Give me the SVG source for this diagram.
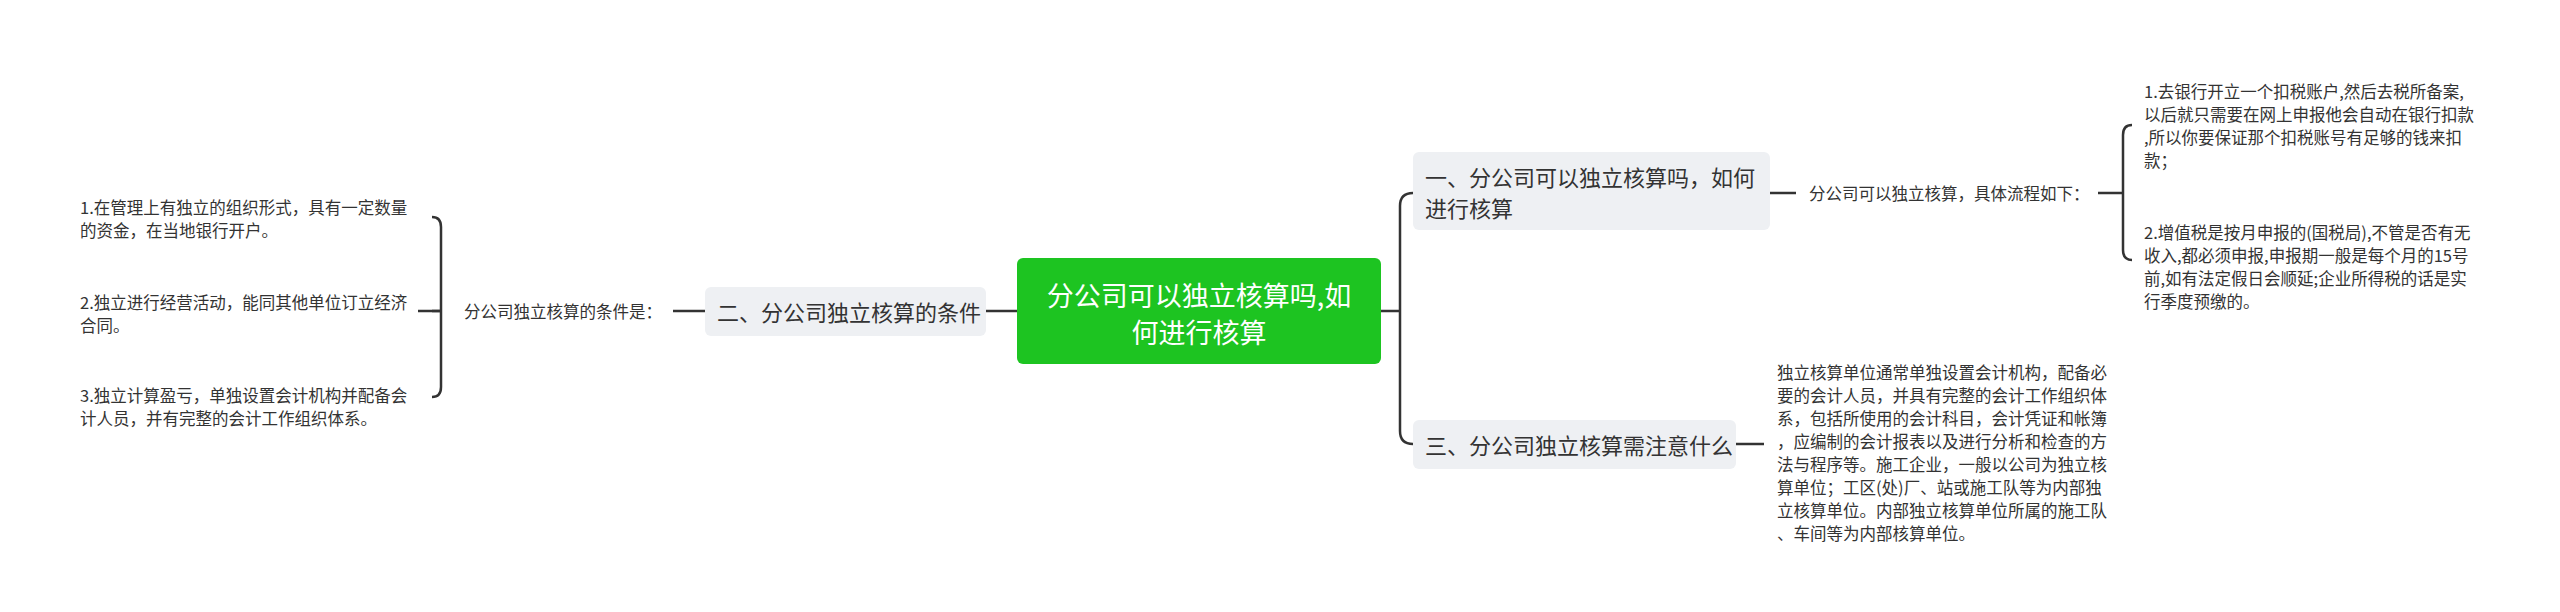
<svg xmlns="http://www.w3.org/2000/svg" width="2560" height="612" viewBox="0 0 2560 612">
<style>
text{font-family:"Noto Sans CJK SC","Noto Sans",sans-serif;fill:#333;dominant-baseline:central}
.leaf{font-size:16.5px}
.sub{font-size:22px}
.ln{fill:none;stroke:#333;stroke-width:2.5}
.box{fill:#eef0f3}
</style>
<rect width="2560" height="612" fill="#fff"/>
<g id="connectors">
<path class="ln" d="M986 311H1017"/>
<path class="ln" d="M673 311H705"/>
<path class="ln" d="M418 311H442 M432 217Q441 217 441 227V387Q441 397 432 397 M441 311V311"/>
<path class="ln" d="M432 311H441"/>
<path class="ln" d="M1381 311H1400 M1413 193Q1400 193 1400 206V431Q1400 444 1413 444"/>
<path class="ln" d="M1770 193H1796"/>
<path class="ln" d="M2098 193H2123 M2132 125Q2123 125 2123 135V250Q2123 260 2132 260"/>
<path class="ln" d="M1736 444H1764"/>
</g>
<g id="center">
<rect x="1017" y="258" width="364" height="106" rx="6" fill="#1dc421"/>
<text x="1199" y="294" font-size="27" fill="#fff" style="fill:#fff" text-anchor="middle">分公司可以独立核算吗,如</text>
<text x="1199" y="331" font-size="27" style="fill:#fff" text-anchor="middle">何进行核算</text>
</g>
<g id="n2">
<rect class="box" x="705" y="287" width="281" height="49" rx="6"/>
<text class="sub" x="717" y="311">二、分公司独立核算的条件</text>
</g>
<g id="n2label"><text class="leaf" x="464" y="311">分公司独立核算的条件是：</text></g>
<g id="n2a"><text class="leaf" x="80" y="207">1.在管理上有独立的组织形式，具有一定数量</text><text class="leaf" x="80" y="230">的资金，在当地银行开户。</text></g>
<g id="n2b"><text class="leaf" x="80" y="302">2.独立进行经营活动，能同其他单位订立经济</text><text class="leaf" x="80" y="325">合同。</text></g>
<g id="n2c"><text class="leaf" x="80" y="395">3.独立计算盈亏，单独设置会计机构并配备会</text><text class="leaf" x="80" y="418">计人员，并有完整的会计工作组织体系。</text></g>
<g id="n1">
<rect class="box" x="1413" y="152" width="357" height="78" rx="6"/>
<text class="sub" x="1425" y="176">一、分公司可以独立核算吗，如何</text>
<text class="sub" x="1425" y="207">进行核算</text>
</g>
<g id="n1label"><text class="leaf" x="1809" y="193">分公司可以独立核算，具体流程如下：</text></g>
<g id="n1a"><text class="leaf" x="2144" y="91">1.去银行开立一个扣税账户,然后去税所备案,</text><text class="leaf" x="2144" y="114">以后就只需要在网上申报他会自动在银行扣款</text><text class="leaf" x="2144" y="137">,所以你要保证那个扣税账号有足够的钱来扣</text><text class="leaf" x="2144" y="160">款；</text></g>
<g id="n1b"><text class="leaf" x="2144" y="232">2.增值税是按月申报的(国税局),不管是否有无</text><text class="leaf" x="2144" y="255">收入,都必须申报,申报期一般是每个月的15号</text><text class="leaf" x="2144" y="278">前,如有法定假日会顺延;企业所得税的话是实</text><text class="leaf" x="2144" y="301">行季度预缴的。</text></g>
<g id="n3">
<rect class="box" x="1413" y="420" width="323" height="49" rx="6"/>
<text class="sub" x="1425" y="444">三、分公司独立核算需注意什么</text>
</g>
<g id="n3a">
<text class="leaf" x="1777" y="372">独立核算单位通常单独设置会计机构，配备必</text>
<text class="leaf" x="1777" y="395">要的会计人员，并具有完整的会计工作组织体</text>
<text class="leaf" x="1777" y="418">系，包括所使用的会计科目，会计凭证和帐簿</text>
<text class="leaf" x="1777" y="441">，应编制的会计报表以及进行分析和检查的方</text>
<text class="leaf" x="1777" y="464">法与程序等。施工企业，一般以公司为独立核</text>
<text class="leaf" x="1777" y="487">算单位；工区(处)厂、站或施工队等为内部独</text>
<text class="leaf" x="1777" y="510">立核算单位。内部独立核算单位所属的施工队</text>
<text class="leaf" x="1777" y="533">、车间等为内部核算单位。</text>
</g>
</svg>
